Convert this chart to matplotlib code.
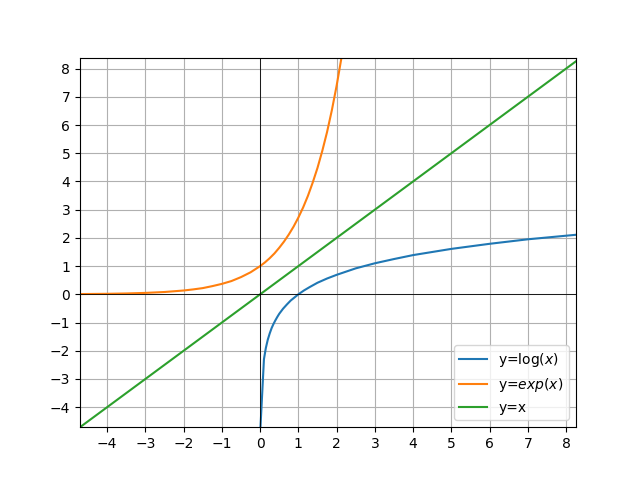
import numpy as np
import matplotlib.pyplot as plt

# points
log_x = [0.009, 0.1, 0.15, 0.2, 0.25, 0.3, 0.35, 0.4, 0.45, 0.5, 0.6, 0.7, 0.8, 0.9, 1.0, 1.15, 1.3, 1.5,
         1.75, 2.0, 2.5, 3.0, 3.5, 4.0, 5.0, 6.0, 7.0, 8.26]
log_y = [-4.71, -2.30, -1.90, -1.61, -1.39, -1.20, -1.05, -0.92, -0.80, -0.69, -0.51, -0.36, -0.22, -0.11,
         0.0, 0.14, 0.26, 0.41, 0.56, 0.69, 0.92, 1.10, 1.25, 1.39, 1.61, 1.79, 1.95, 2.11]

exp_x = [-4.71, -4.0, -3.5, -3.0, -2.5, -2.0, -1.75, -1.5, -1.25, -1.0, -0.75, -0.5, -0.25, 0.0,
         0.125, 0.25, 0.375, 0.5, 0.625, 0.75, 0.875, 1.0, 1.125, 1.25, 1.375, 1.5, 1.625, 1.75,
         1.875, 2.0, 2.125, 2.25]
exp_y = [0.009, 0.018, 0.030, 0.050, 0.082, 0.135, 0.174, 0.22, 0.29, 0.37, 0.47, 0.61, 0.78, 1.0,
         1.13, 1.28, 1.45, 1.65, 1.87, 2.12, 2.40, 2.72, 3.08, 3.49, 3.96, 4.48, 5.08, 5.75,
         6.52, 7.39, 8.37, 9.49]

lin_x = [-4.71, 8.26]
lin_y = [-4.71, 8.26]

x_ticks = list(range(-4, 9))
y_ticks = list(range(-4, 9))

fig, ax = plt.subplots(figsize=(6.4, 4.8), dpi=100)
ax.plot(log_x, log_y, label='y=log($x$)')
ax.plot(exp_x, exp_y, label='y=$exp(x)$')
ax.plot(lin_x, lin_y, label='y=x')
ax.axhline(0, color='black', linewidth=0.6)
ax.axvline(0, color='black', linewidth=0.6)
ax.set_xlim(-4.71, 8.26)
ax.set_ylim(-4.71, 8.39)
ax.set_xticks(x_ticks)
ax.set_yticks(y_ticks)
ax.grid(True)
ax.legend(loc='lower right')
fig.savefig('out.png')
